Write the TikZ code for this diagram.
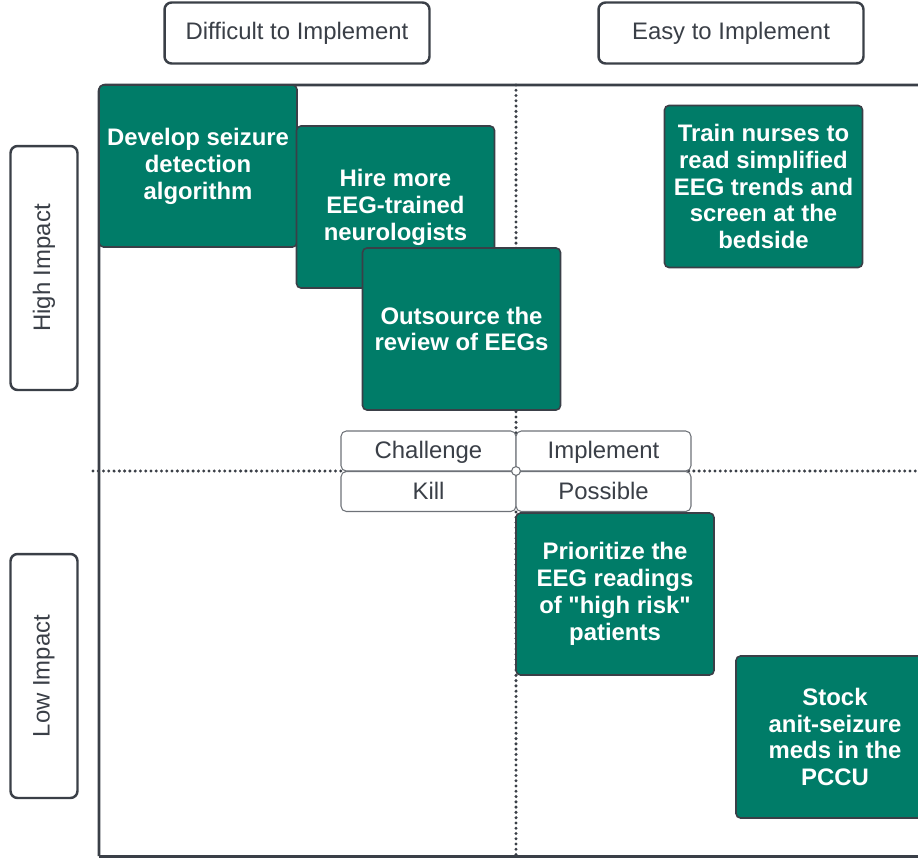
\documentclass[tikz,border=0pt]{standalone}
\usepackage{fontspec}
\setmainfont{Liberation Sans}
\usepackage{tikz}
\usetikzlibrary{calc}
\definecolor{teal}{RGB}{0,124,104}
\definecolor{ink}{RGB}{58,63,71}
\definecolor{rim}{RGB}{110,114,120}

\begin{document}
\begin{tikzpicture}[x=0.02cm, y=-0.02cm,
    idea/.style={rectangle, draw=ink, line width=0.9pt, rounded corners=2.5pt, fill=teal,
        text=white, align=center, minimum width=3.96cm, minimum height=3.24cm,
        font=\bfseries\fontsize{13.6}{15.3}\selectfont},
    axis/.style={rectangle, draw=ink, line width=1.4pt, rounded corners=4pt, fill=white,
        text=ink, font=\fontsize{13.6}{15.3}\selectfont},
    quad/.style={rectangle, draw=rim, line width=0.6pt, rounded corners=3pt, fill=white,
        text=ink, minimum width=3.5cm, minimum height=0.8cm, text height=9.7pt, text depth=1pt,
        font=\fontsize{13.6}{15.3}\selectfont},
    grid/.style={ink, line width=1.9pt, dash pattern=on 0pt off 3pt, line cap=round}]
    \useasboundingbox (0,0) rectangle (918,858);
    \clip (0,0) rectangle (918,858);
    \node[axis, minimum width=5.3cm, minimum height=1.22cm] (hard) at (297,33) {Difficult to Implement};
    \node[axis, minimum width=5.3cm, minimum height=1.22cm] (easy) at (731,33) {Easy to Implement};
    \node[axis, rotate=90, minimum width=4.88cm, minimum height=1.34cm] (high) at (44,268) {High Impact};
    \node[axis, rotate=90, minimum width=4.88cm, minimum height=1.34cm] (low) at (44,676) {Low Impact};
    \draw[ink, line width=1.7pt, rounded corners=4pt] (99,856) -- (99,85) -- (940,85);
    \draw[ink, line width=1.7pt] (99,856) -- (940,856);
    \coordinate (top) at (516,85);
    \coordinate (bottom) at (516,858);
    \coordinate (left) at (93,471);
    \coordinate (right) at (918,471);
    \draw[grid] (top) -- (bottom);
    \draw[grid] (left) -- (right);
    \node[idea] (develop) at (198,166) {Develop seizure\\detection\\algorithm};
    \node[idea] (hire) at (395.5,207) {Hire more\\EEG-trained\\neurologists};
    \node[idea] (outsource) at (461.5,329) {Outsource the\\review of EEGs};
    \node[idea] (train) at (763.5,186.5) {Train nurses to\\read simplified\\EEG trends and\\screen at the\\bedside};
    \node[idea] (prioritize) at (615,594) {Prioritize the\\EEG readings\\of \textquotedbl high risk\textquotedbl\\patients};
    \node[idea] (stock) at (835,737) {Stock\\anit-seizure\\meds in the\\PCCU};
    \node[quad] (challenge) at (428.5,451) {Challenge};
    \node[quad] (implement) at (603.5,451) {Implement};
    \node[quad] (kill) at (428.5,491.5) {Kill};
    \node[quad] (possible) at (603.5,491.5) {Possible};
    \node[circle, draw=rim, fill=white, line width=0.6pt, inner sep=0pt, minimum size=5pt] (mid) at (516,471) {};
\end{tikzpicture}
\end{document}
